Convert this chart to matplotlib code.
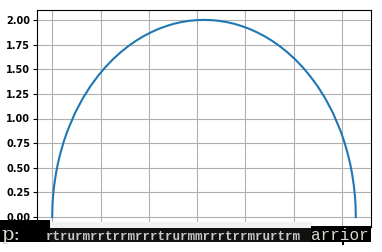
import numpy as np
import matplotlib
matplotlib.use('Agg')
import matplotlib.pyplot as plt
from matplotlib.patches import Rectangle

# left half of the curve (semi-ellipse, peak 2.0 at x = pi);
# the right half mirrors it around x = pi
x_frac = [0.0, 0.002, 0.005, 0.0125, 0.025, 0.0375, 0.05, 0.075, 0.1, 0.15, 0.2,
          0.25, 0.3, 0.35, 0.4, 0.45, 0.5, 0.55, 0.6, 0.65, 0.7, 0.75, 0.8,
          0.85, 0.9, 0.95]
y_half = [0.0, 0.126, 0.200, 0.315, 0.444, 0.543, 0.624, 0.760, 0.872, 1.054,
          1.2, 1.323, 1.428, 1.520, 1.6, 1.670, 1.732, 1.786, 1.833, 1.873,
          1.908, 1.936, 1.960, 1.977, 1.990, 1.997]
x_half = [f * np.pi for f in x_frac]
x = x_half + [np.pi] + [2 * np.pi - v for v in x_half[::-1]]
y = y_half + [2.0] + y_half[::-1]

yticks = [0.0, 0.25, 0.5, 0.75, 1.0, 1.25, 1.5, 1.75, 2.0]
ytick_labels = ['0.00', '0.25', '0.50', '0.75', '1.00', '1.25', '1.50', '1.75', '2.00']

# garbled overlay text at the bottom
left_text = 'p:'
mid_text = 'rtrurmrrtrrmrrrtrurmmrrrtrrmrurtrm'
right_text = 'arrior'

W, H = 382, 252
fig = plt.figure(figsize=(W / 100, H / 100), dpi=100)
ax = fig.add_axes([37 / W, 1 - 227 / H, 334 / W, 217 / H])
ax.plot(x, y, color='#1f77b4', lw=1.5)
ax.set_xlim(-0.1 * np.pi, 2.1 * np.pi)
ax.set_ylim(-0.1, 2.1)
ax.set_xticks(np.arange(0, 7))
ax.set_xticklabels([])
ax.set_yticks(yticks)
ax.set_yticklabels(ytick_labels, fontsize=7, fontweight='bold')
ax.tick_params(length=3, pad=2)
ax.grid(True, color='#b0b0b0', lw=0.8)


def px_rect(x0, y0, w, h, color):
    fig.add_artist(Rectangle((x0 / W, 1 - (y0 + h) / H), w / W, h / H,
                             transform=fig.transFigure, color=color, lw=0, zorder=10))


# overlay band
px_rect(0, 220, 50, 22, 'black')
px_rect(50, 222, 262, 6, '#f2f2f2')
px_rect(50, 228, 262, 14, '#111111')
px_rect(311, 226, 60, 16, 'black')
px_rect(342, 242, 2, 3, 'black')

fig.text(1 / W, 1 - 240 / H, left_text, family='DejaVu Serif', fontsize=14,
         color='#d8d8d0', va='baseline', zorder=11)
fig.text(46 / W, 1 - 240 / H, mid_text, family='Liberation Mono', fontsize=9,
         fontweight='bold', color='#c8c8c8', va='baseline', zorder=11)
fig.text(311 / W, 1 - 240 / H, right_text, family='Liberation Mono', fontsize=11.5,
         color='#d8d8d0', va='baseline', zorder=11)

fig.savefig('out.png', dpi=100)
